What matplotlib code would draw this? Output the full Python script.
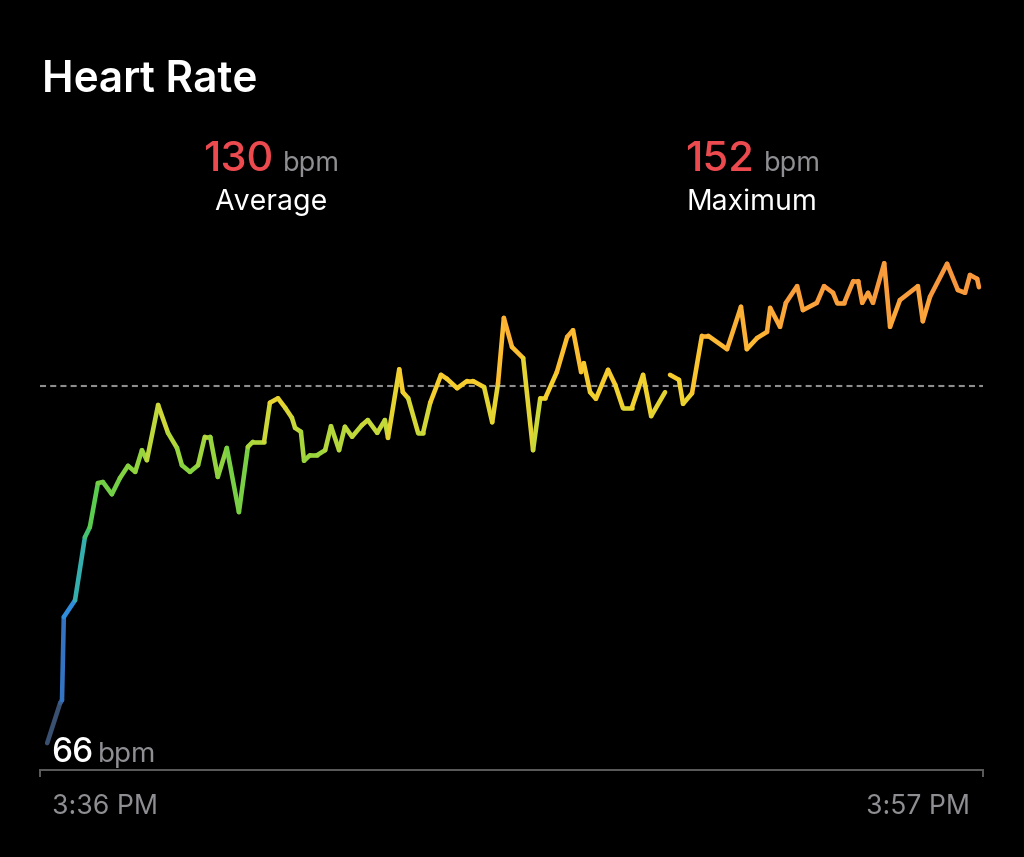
import numpy as np
import matplotlib
matplotlib.use("Agg")
import matplotlib.pyplot as plt
from matplotlib.collections import LineCollection
from matplotlib.colors import LinearSegmentedColormap, Normalize

# ---- data (minutes after 3:36 PM, bpm) ----
minutes = [0.16, 0.45, 0.49, 0.53, 0.78, 1.00, 1.11, 1.29, 1.40, 1.60, 1.78, 1.96, 2.12, 2.27, 2.38,
           2.63, 2.85, 3.05, 3.16, 3.34, 3.52, 3.67, 3.79, 3.96, 4.16, 4.43, 4.63, 4.74, 4.99, 5.12,
           5.30, 5.46, 5.61, 5.68, 5.81, 5.88, 6.01, 6.17, 6.35, 6.48, 6.66, 6.79, 6.95, 7.17, 7.30,
           7.51, 7.68, 7.75, 8.00, 8.08, 8.20, 8.42, 8.53, 8.69, 8.93, 9.06, 9.29, 9.51, 9.64, 9.89,
           10.07, 10.20, 10.33, 10.51, 10.76, 10.98, 11.14, 11.25, 11.51, 11.74, 11.87, 12.05, 12.11,
           12.25, 12.38, 12.65, 12.81, 12.98, 13.18, 13.43, 13.61, 13.92,
           14.03, 14.23, 14.32, 14.52, 14.74, 14.88, 15.30, 15.61, 15.74, 15.97, 16.19, 16.26, 16.48,
           16.61, 16.86, 16.99, 17.30, 17.46, 17.66, 17.75, 17.91, 18.11, 18.22, 18.31, 18.44, 18.55,
           18.80, 18.93, 19.15, 19.55, 19.66, 19.82, 20.20, 20.44, 20.60, 20.71, 20.87, 20.91]
bpm = [66.0, 73.2, 73.7, 88.6, 91.6, 102.9, 104.7, 112.6, 112.8, 110.6, 113.5, 115.7, 114.6, 118.5, 116.7,
       126.6, 121.6, 118.9, 115.8, 114.6, 115.8, 120.9, 120.9, 113.7, 118.9, 107.4, 119.1, 120.0, 120.0, 127.0,
       127.8, 126.1, 124.3, 122.5, 121.8, 116.6, 117.6, 117.6, 118.5, 122.8, 118.5, 122.7, 120.9, 123.0, 123.9,
       121.6, 123.9, 120.7, 133.0, 128.9, 127.8, 121.6, 121.6, 127.0, 132.0, 131.3, 129.6, 130.9, 130.9, 129.8,
       123.5, 130.5, 142.2, 137.0, 135.0, 118.5, 127.8, 127.8, 132.5, 138.8, 140.0, 132.5, 134.1,
       128.9, 127.7, 132.9, 130.2, 126.1, 126.1, 132.0, 124.6, 128.9,
       132.0, 131.1, 126.8, 128.7, 139.0, 139.0, 136.6, 144.2, 136.6, 138.6, 139.7, 144.0, 140.6,
       144.9, 147.9, 143.6, 144.9, 147.9, 146.7, 144.9, 144.9, 148.8, 148.8, 144.9, 146.7, 144.9,
       152.0, 140.6, 145.4, 147.9, 141.6, 146.0, 151.9, 147.2, 146.7, 149.9, 149.2, 147.7]
gap_after_index = 81          # recording gap between 13.92 and 14.03 min
average_bpm = 130
maximum_bpm = 152
minimum_bpm = 66
time_labels = ["3:36 PM", "3:57 PM"]
duration_min = 21

# ---- figure ----
W, H = 1024, 857
fig = plt.figure(figsize=(W / 100, H / 100), dpi=100, facecolor="black")
FONT = ["Inter", "DejaVu Sans"]

def fx(px):
    return px / W

def fy(py):
    return 1 - py / H

# pixel layout of the plotting area
ax_left, ax_right = 40, 983
ax_top, ax_bottom = 230, 770
y_avg_px, px_per_bpm = 386, 5.58
ylo = average_bpm - (ax_bottom - y_avg_px) / px_per_bpm
yhi = average_bpm + (y_avg_px - ax_top) / px_per_bpm

ax = fig.add_axes([fx(ax_left), fy(ax_bottom), fx(ax_right - ax_left), (ax_bottom - ax_top) / H])
ax.set_facecolor("black")
ax.set_xlim(0, duration_min)
ax.set_ylim(ylo, yhi)
for s in ["top", "left", "right"]:
    ax.spines[s].set_visible(False)
ax.spines["bottom"].set_color("#5c5c5c")
ax.spines["bottom"].set_linewidth(1.4)
ax.set_yticks([])
ax.set_xticks([0, duration_min])
ax.tick_params(axis="x", length=5, width=1.4, color="#5c5c5c", direction="out", labelbottom=False)

# average dashed line
ax.axhline(average_bpm, color="#8e8e8e", lw=1.5, ls=(0, (2.9, 2.0)), zorder=1)

# colour gradient by heart rate
cmap = LinearSegmentedColormap.from_list("hr", [
    (0.00, "#3b4657"),
    (0.12, "#3566a8"),
    (0.26, "#2f86e6"),
    (0.38, "#36b4a6"),
    (0.47, "#4cca52"),
    (0.58, "#8bd33e"),
    (0.66, "#c6d93a"),
    (0.73, "#f3d22e"),
    (0.81, "#fcc030"),
    (0.90, "#fba63a"),
    (1.00, "#f6903e"),
])
norm = Normalize(vmin=66, vmax=152)

t = np.array(minutes)
v = np.array(bpm)
for a, b in [(0, gap_after_index + 1), (gap_after_index + 1, len(t))]:
    pts = np.column_stack([t[a:b], v[a:b]]).reshape(-1, 1, 2)
    segs = np.concatenate([pts[:-1], pts[1:]], axis=1)
    mid = (v[a:b][:-1] + v[a:b][1:]) / 2
    lc = LineCollection(segs, colors=cmap(norm(mid)), linewidths=3.3,
                        capstyle="round", joinstyle="round", zorder=3)
    ax.add_collection(lc)

# ---- texts ----
WHITE = "#ffffff"
GREY = "#8e8e93"
RED = "#ec4a4f"

fig.text(fx(42), fy(92), "Heart Rate", color=WHITE, fontsize=30.5, fontweight="semibold",
         family=FONT, ha="left", va="baseline")

def stat(cx, value, label):
    # value + unit, centred around cx
    fig.text(fx(cx + 2), fy(171), str(value), color=RED, fontsize=30, fontweight="medium",
             family=FONT, ha="right", va="baseline")
    fig.text(fx(cx + 12), fy(171), "bpm", color=GREY, fontsize=19.5,
             family=FONT, ha="left", va="baseline")
    fig.text(fx(cx), fy(210), label, color=WHITE, fontsize=20.5,
             family=FONT, ha="center", va="baseline")

stat(271, average_bpm, "Average")
stat(752, maximum_bpm, "Maximum")

fig.text(fx(51), fy(762), str(minimum_bpm), color=WHITE, fontsize=24, fontweight="medium",
         family=FONT, ha="left", va="baseline")
fig.text(fx(98), fy(762), "bpm", color=GREY, fontsize=20,
         family=FONT, ha="left", va="baseline")

fig.text(fx(52), fy(814), time_labels[0], color=GREY, fontsize=19.2,
         family=FONT, ha="left", va="baseline")
fig.text(fx(970), fy(814), time_labels[1], color=GREY, fontsize=19.2,
         family=FONT, ha="right", va="baseline")

fig.savefig("out.png", dpi=100, facecolor="black")
